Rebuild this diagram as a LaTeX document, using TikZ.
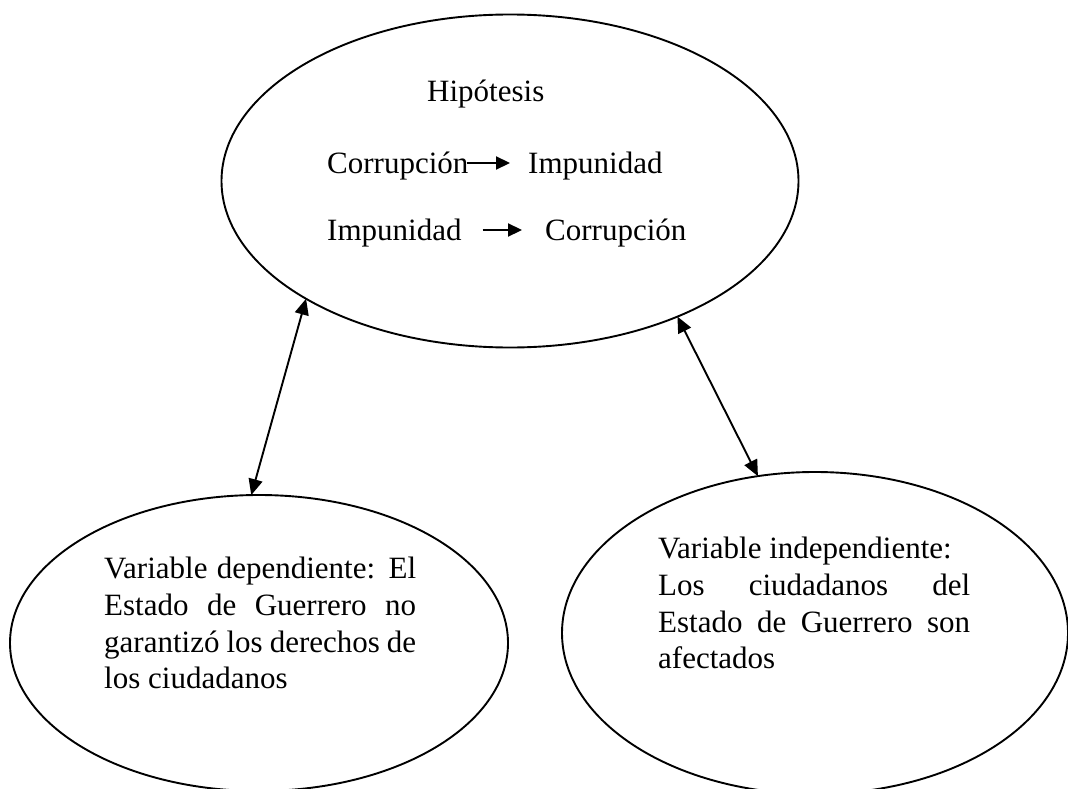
\documentclass[tikz,border=0pt]{standalone}
\usepackage{fontspec}
\setmainfont{Liberation Serif}
\usetikzlibrary{shapes.geometric,arrows.meta}

\begin{document}
\begin{tikzpicture}[x=1pt,y=-1pt,
    bubble/.style={draw,ellipse,line width=1.9pt,inner sep=0pt,outer sep=0pt},
    txt/.style={inner sep=0pt,font=\fontsize{31}{36.7}\selectfont},
    para/.style={txt,text width=312pt,align=justify,anchor=north west},
    link/.style={line width=1.9pt,{Triangle[length=16pt,width=14pt]}-{Triangle[length=16pt,width=14pt]}},
    inl/.style={line width=2.2pt,-{Triangle[length=14pt,width=13pt]}}]
    \useasboundingbox (0,0) rectangle (1068,789);
    \node[bubble,minimum width=577pt,minimum height=333pt] (hypo) at (510,181) {};
    \node[bubble,minimum width=498pt,minimum height=296pt] (dep) at (259,643) {};
    \node[bubble,minimum width=506pt,minimum height=322pt] (indep) at (815,633) {};
    \node[txt,anchor=base west] (title) at (427,102) {Hipótesis};
    \node[txt,anchor=base west] (corrA) at (327,173) {Corrupción};
    \node[txt,anchor=base west] (impA) at (528,173) {Impunidad};
    \node[txt,anchor=base west] (impB) at (327,240) {Impunidad};
    \node[txt,anchor=base west] (corrB) at (545,240) {Corrupción};
    \draw[inl] ([xshift=-2pt,yshift=10pt]corrA.base east) -- ([xshift=-18pt,yshift=10pt]impA.base west);
    \draw[inl] ([xshift=21pt,yshift=10pt]impB.base east) -- ([xshift=-23pt,yshift=10pt]corrB.base west);
    \node[para] (deptext) at (104,557) {Variable dependiente: El\linebreak Estado de Guerrero no\linebreak garantizó los derechos de\linebreak los ciudadanos};
    \node[para] (indeptext) at (658,537) {Variable independiente:\newline Los ciudadanos del\linebreak Estado de Guerrero son\linebreak afectados};
    \draw[link] (hypo.210.8) -- (dep.93);
    \draw[link] (hypo.321.5) -- (indep.110.7);
\end{tikzpicture}
\end{document}
